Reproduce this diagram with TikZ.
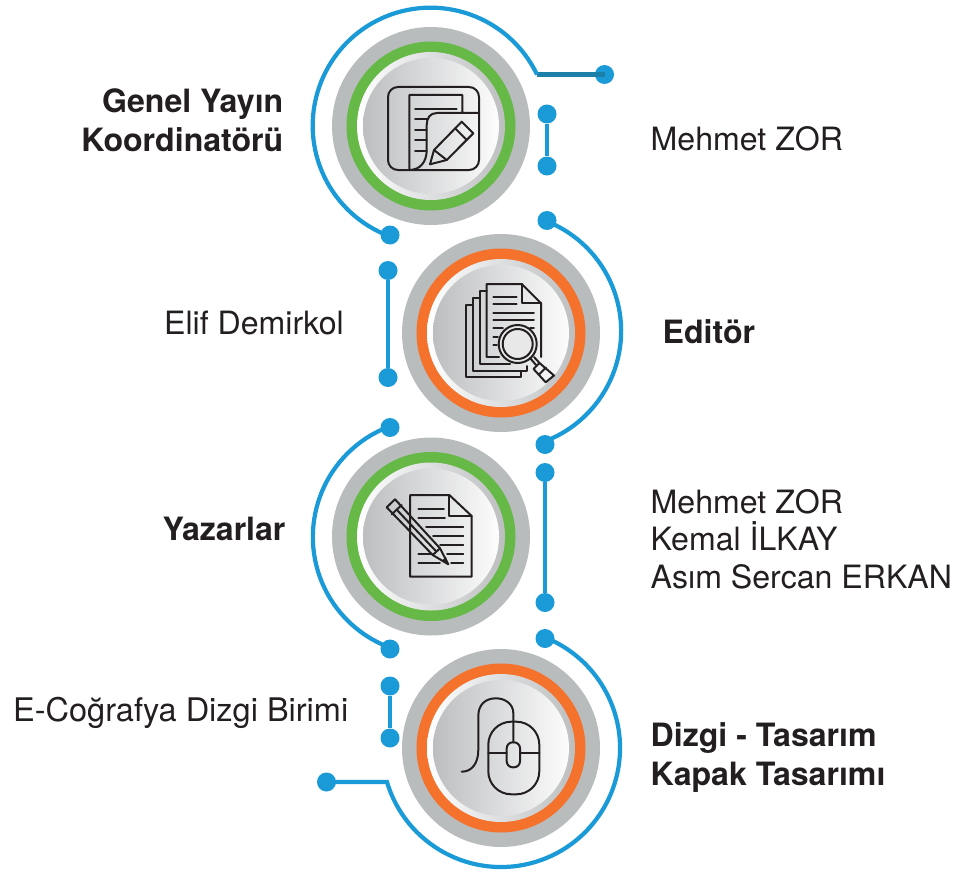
\documentclass[tikz,border=0pt]{standalone}
\usepackage{fontspec}
\setmainfont{TeX Gyre Heros}
\definecolor{cblue}{HTML}{1A9AD6}
\definecolor{cteal}{HTML}{1C7FA8}
\definecolor{cgray}{HTML}{B9BCBD}
\definecolor{cgreen}{HTML}{66B947}
\definecolor{corange}{HTML}{F4722B}
\definecolor{cink}{HTML}{231F20}
\definecolor{cdisk}{HTML}{BCBEC0}
\tikzset{
  dotnode/.style={circle,fill=cblue,draw=none,minimum size=19pt,inner sep=0pt},
  conn/.style={draw=cblue,line width=4.2pt},
  outerring/.style={circle,fill=cgray,draw=none,minimum size=198pt,inner sep=0pt},
  colorring/.style={circle,fill=#1,draw=none,minimum size=169pt,inner sep=0pt},
  rimdisk/.style={circle,left color=white,right color=cdisk,draw=none,minimum size=148pt,inner sep=0pt},
  facedisk/.style={circle,left color=cdisk,right color=white!96!cdisk,draw=none,minimum size=136pt,inner sep=0pt},
  icon/.style={draw=cink,line width=2pt,line join=round,line cap=round},
  iconthin/.style={draw=cink,line width=1.8pt,line join=round,line cap=round},
  plain/.style={text=cink,font=\fontsize{32.1}{37.5}\selectfont,anchor=west,inner sep=0pt,align=left},
  bold/.style={text=cink,font=\fontsize{32.1}{39}\selectfont\bfseries,inner sep=0pt},
}
\newcommand{\medal}[4]{%
  \node[outerring] (#1o) at (#2,#3) {};
  \node[colorring=#4] (#1c) at (#2,#3) {};
  \node[rimdisk] (#1r) at (#2,#3) {};
  \node[facedisk] (#1) at (#2,#3) {};
}
\begin{document}
\begin{tikzpicture}[x=1pt,y=1pt,yscale=-1]
\useasboundingbox (0,0) rectangle (955,872);
\medal{m1}{431}{126}{cgreen}
\medal{m2}{501}{333}{corange}
\medal{m3}{431}{536.5}{cgreen}
\medal{m4}{501}{748}{corange}
% dots
\node[dotnode] (a1) at (604.5,74.5) {};
\node[dotnode] (a2) at (390,235) {};
\node[dotnode] (b1) at (547,114) {};
\node[dotnode] (b2) at (547,166) {};
\node[dotnode] (c1) at (547,220.5) {};
\node[dotnode] (c2) at (545,444.5) {};
\node[dotnode] (d1) at (388,270.5) {};
\node[dotnode] (d2) at (388,377.5) {};
\node[dotnode] (e1) at (390,427.5) {};
\node[dotnode] (e2) at (390,649) {};
\node[dotnode] (f1) at (545,472.5) {};
\node[dotnode] (f2) at (545,602.5) {};
\node[dotnode] (g1) at (545,638.5) {};
\node[dotnode] (g2) at (326.5,782) {};
\node[dotnode] (h1) at (390,686) {};
\node[dotnode] (h2) at (390,738) {};
% connectors
\coordinate (a3) at (537,74.5);
\draw[conn,draw=cteal] (a1.center) -- (a3);
\draw[conn] (a3) arc (-25.7:-249.4:118) -- (a2.center);
\draw[conn] (b1) -- (b2);
\draw[conn] (c1.center) -- (553,224) arc (-65:68:118) -- (c2.center);
\draw[conn] (d1) -- (d2);
\draw[conn] (e1.center) -- (381,430) arc (-115:-245:118) -- (e2.center);
\draw[conn] (f1) -- (f2);
\coordinate (g3) at (387,782);
\draw[conn] (g2.center) -- (g3) arc (163.4:-63.5:119) -- (g1.center);
\draw[conn] (h1) -- (h2);
% icon 1
\draw[icon] (399,87) -- (469,87) arc (-90:0:10) -- (479,160) arc (0:90:10) -- (398,170) arc (90:180:10) -- (388,97) arc (180:270:10) -- cycle;
\draw[icon] (462.3,113) -- (462.3,95) -- (409.3,95) -- (409.3,170) .. controls (420,170) and (426.7,162) .. (426.7,150) -- (426.7,125) .. controls (426.7,118) and (430,113) .. (437,113) -- (479,113);
\draw[icon] (415,109) -- (456.7,109);
\foreach \yy/\xe in {119.3/428,130/426.7,140/426.7,150.7/426.7} \draw[icon] (415,\yy) -- (\xe,\yy);
\draw[icon] (430,164.3) -- (434,150) -- (461.7,121.7) -- (473.3,133.3) -- (446.7,160) -- cycle;
\draw[icon] (434,150) -- (446.7,160);
\draw[icon] (455,128.3) -- (466.7,140);
% icon 2
\draw[icon] (486.7,356.7) -- (486.7,284) -- (521.7,284) -- (541,303.3) -- (541,357);
\draw[icon] (521.7,284) -- (521.7,303.3) -- (541,303.3);
\draw[icon] (486.7,356.7) -- (499,356.7);
\draw[icon] (486.7,291) -- (480,291) -- (480,364) -- (510,364);
\draw[icon] (480,298) -- (472.7,298) -- (472.7,370.7) -- (526.7,370.7) -- (526.7,366);
\draw[icon] (472.7,305) -- (465.7,305) -- (465.7,377.3) -- (520.7,377.3) -- (520.7,371);
\foreach \yy/\xa/\xb in {296.7/493.3/516.7,304.3/493.3/516.7,312.7/493.3/534,320/493.3/534,328.3/493.3/503,336.7/493.3/498,345/493.3/497}
  \draw[iconthin] (\xa,\yy) -- (\xb,\yy);
\draw[iconthin] (530,328.3) -- (534,328.3);
\fill[cdisk!35!white] (517.7,344) circle (19);
\draw[icon] (517.7,344) circle (19);
\draw[icon] (517.7,344) circle (15);
\draw[icon] (530,358) -- (536,365);
\draw[icon] (534,357) -- (539.5,363);
\draw[icon] (539.5,363) -- (554,375.5) -- (545.7,382.3) -- (533.5,369) -- cycle;
\draw[icon] (539,374.5) -- (546,367.5);
% icon 3
\draw[icon] (410,496) -- (410,576.7) -- (471.7,576.7) -- (471.7,516) -- (449.3,495) -- (410,495);
\draw[icon] (449.3,495) -- (449.3,516) -- (471.7,516);
\foreach \yy/\xa/\xb in {509/418.3/444,518/418.3/445,527/426/463.3,536/433/463.3,545/440/463.3,554/418.3/432,554/447/463.3,563/418.3/440,563/451/463.3}
  \draw[iconthin] (\xa,\yy) -- (\xb,\yy);
\draw[icon] (448.3,564.3) -- (432.7,555) -- (386.7,507.3) -- (395,499.3) -- (440,548.3) -- cycle;
\draw[icon] (432.7,555) -- (440,548.3);
\draw[icon] (391.7,514.3) -- (401.7,505);
\draw[icon] (397,510) -- (436.3,551.5);
\fill[cink] (448.3,564.3) -- (442,560.5) -- (446,557) -- cycle;
% icon 4
\draw[icon,rounded corners=23pt] (488.3,721.7) rectangle (539.3,794.3);
\draw[icon,rounded corners=6pt] (506.7,742.3) rectangle (520,767.3);
\draw[icon] (488.3,752.7) -- (506.7,752.7);
\draw[icon] (520,752.7) -- (539.3,752.7);
\draw[icon] (513.3,742.3) -- (513.3,713) .. controls (513.3,704) and (505,698.3) .. (496,698.3) .. controls (485,698.3) and (478.3,705) .. (478.3,716) -- (478.3,750) .. controls (478.3,763) and (472,771.7) .. (461.7,771.7);
% texts
\node[bold,anchor=east,align=right] (t1) at (283.5,120.5) {Genel Yayın\\Koordinatörü};
\node[plain] (n1) at (650.5,139) {Mehmet ZOR};
\node[plain,anchor=east] (n2) at (344,323) {Elif Demirkol};
\node[bold,anchor=west] (t2) at (662.5,332) {Editör};
\node[bold,anchor=west] (t3) at (162.5,529) {Yazarlar};
\node[plain] (n3) at (650.5,539) {Mehmet ZOR\\Kemal İLKAY\\Asım Sercan ERKAN};
\node[plain,anchor=west,font=\fontsize{32.5}{37.5}\selectfont] (n4) at (13,712.5) {E-Coğrafya Dizgi Birimi};
\node[bold,anchor=west,align=left] (t4) at (650.5,757.5) {Dizgi - Tasarım\\Kapak Tasarımı};
\end{tikzpicture}
\end{document}
